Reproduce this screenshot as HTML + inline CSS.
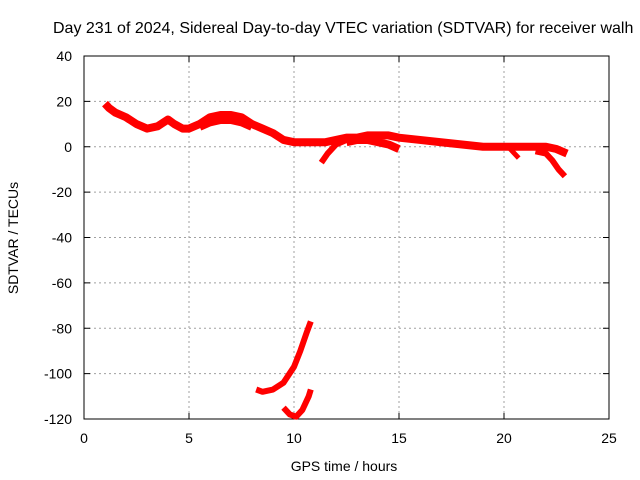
<!DOCTYPE html>
<html><head><meta charset="utf-8"><style>
body{margin:0;background:#fff;}
svg{display:block;font-family:"Liberation Sans",sans-serif;font-size:14px;}
</style></head><body>
<svg id="chart" width="640" height="480">
<rect x="0" y="0" width="640" height="480" fill="#fff"/>
<text x="53" y="33" font-size="16">Day 231 of 2024, Sidereal Day-to-day VTEC variation (SDTVAR) for receiver walh</text>
<g id="grid"></g><g id="axes"></g><g id="series"></g>
<text x="344" y="471" text-anchor="middle">GPS time / hours</text>
<text transform="translate(18,238) rotate(-90)" text-anchor="middle">SDTVAR / TECUs</text>
</svg>
<script>
const xTicks=[0,5,10,15,20,25];
const yTicks=[40,20,0,-20,-40,-60,-80,-100,-120];
const mainX=[1,1.2,1.5,2,2.5,3,3.5,4,4.3,4.7,5,5.5,6,6.5,7,7.5,8,8.5,9,9.5,10,10.5,11,11.5,12,12.5,13,13.5,14,14.5,15,16,17,18,19,20,21,22,22.5,23];
const mainY=[19,17,15,13,10,8,9,12,10,8,8,10,13,14,14,13,10,8,6,3,2,2,2,2,3,4,4,5,5,5,4,3,2,1,0,0,0,0,-1,-3];
const band2X=[5.5,6,6.5,7,7.5,8];
const band2Y=[9,11,12,12,11,9];
const br1X=[11.3,11.6,12,12.5];
const br1Y=[-7,-3,1,3];
const br2X=[12.5,13,13.5,14,14.5,15];
const br2Y=[2,3,3,2,1,-1];
const br3X=[20.2,20.5,20.7];
const br3Y=[0,-3,-5];
const br4X=[21.5,22,22.3,22.6,22.9];
const br4Y=[-2,-3,-6,-10,-13];
const low1X=[8.2,8.5,9,9.5,10,10.3,10.6,10.8];
const low1Y=[-107,-108,-107,-104,-97,-90,-82,-77];
const low2X=[9.5,9.8,10.1,10.4,10.7,10.8];
const low2Y=[-115,-118,-119,-116,-110,-107];
const X0=84,X1=609,Y0=419,Y1=56;
const sx=v=>X0+(v-0)/25*(X1-X0);
const sy=v=>Y0-(v+120)/160*(Y0-Y1);
const NS="http://www.w3.org/2000/svg";
function mk(t,a,p){const e=document.createElementNS(NS,t);for(const k in a)e.setAttribute(k,a[k]);p.appendChild(e);return e;}
const grid=document.getElementById('grid'),axes=document.getElementById('axes'),ser=document.getElementById('series');
xTicks.forEach(t=>{
 if(t>0&&t<25){const g=mk('line',{x1:sx(t),x2:sx(t),y1:Y1,y2:Y0,stroke:'#a0a0a0','stroke-dasharray':'2,3','stroke-width':1},grid);
 
 }
 const l=mk('text',{x:sx(t),y:Y0+24,'text-anchor':'middle'},axes);l.textContent=t;
 
 
 mk('line',{x1:sx(t),x2:sx(t),y1:Y0,y2:Y0-6,stroke:'#000'},axes);
 mk('line',{x1:sx(t),x2:sx(t),y1:Y1,y2:Y1+6,stroke:'#000'},axes);
});
yTicks.forEach(t=>{
 if(t>-120&&t<40){const g=mk('line',{x1:X0,x2:X1,y1:sy(t),y2:sy(t),stroke:'#a0a0a0','stroke-dasharray':'2,3','stroke-width':1},grid);
 
 }
 const l=mk('text',{x:X0-12,y:sy(t)+5,'text-anchor':'end'},axes);l.textContent=t;
 
 
 mk('line',{x1:X0,x2:X0+6,y1:sy(t),y2:sy(t),stroke:'#000'},axes);
 mk('line',{x1:X1,x2:X1-6,y1:sy(t),y2:sy(t),stroke:'#000'},axes);
});
const fr=mk('rect',{x:X0,y:Y1,width:X1-X0,height:Y0-Y1,fill:'none',stroke:'#000'},axes);


[[mainX,mainY,'series-main',8],[band2X,band2Y,'series-band',9],[br1X,br1Y,'series-branch-11h',6],[br2X,br2Y,'series-branch-14h',8],[br3X,br3Y,'series-branch-20h',5],[br4X,br4Y,'series-branch-22h',6],[low1X,low1Y,'series-low-upper',6],[low2X,low2Y,'series-low-lower',6]].forEach(([xs,ys,n,w])=>{
 const p=mk('polyline',{points:xs.map((x,i)=>sx(x)+','+sy(ys[i])).join(' '),fill:'none',stroke:'#ff0000','stroke-width':w,'stroke-linejoin':'round','stroke-linecap':'butt'},ser);
 
 
});
</script>
</body></html>
